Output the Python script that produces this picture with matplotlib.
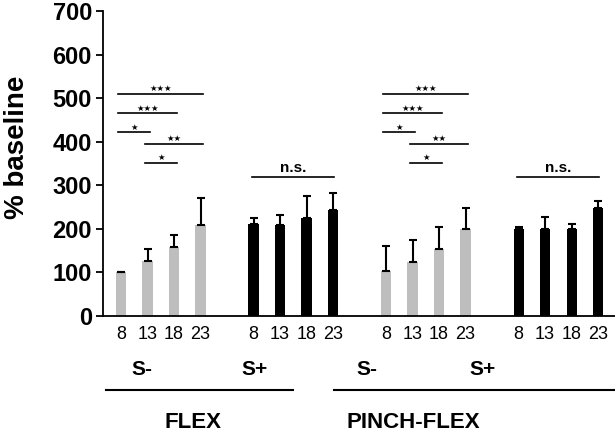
import numpy as np
import matplotlib
matplotlib.use("Agg")
import matplotlib.pyplot as plt
import matplotlib.transforms as mtransforms

plt.rcParams['font.family'] = ['Liberation Sans', 'DejaVu Sans']

# bar heights and upper error, 4 groups of 4 (days 8, 13, 18, 23)
days = ['8', '13', '18', '23']
flex_sminus = [100, 126, 159, 209]
flex_sminus_err = [1, 27, 28, 61]
flex_splus = [212, 209, 226, 243]
flex_splus_err = [14, 23, 49, 39]
pinch_sminus = [103, 123, 153, 200]
pinch_sminus_err = [58, 51, 52, 49]
pinch_splus = [199, 200, 200, 249]
pinch_splus_err = [5, 28, 11, 15]

# significance brackets within each S- group: (from bar, to bar, height, label)
sig_pairs = [(0, 3, 510, '★★★'), (0, 2, 466, '★★★'), (0, 1, 422, '★'),
             (1, 3, 395, '★★'), (1, 2, 352, '★')]
ns_height = 318

GRAY = '#bebebe'


def main():
    fig = plt.figure(figsize=(6.15, 4.32), dpi=100)
    ax = fig.add_axes([103 / 615, 1 - 316 / 432, 1 - 103 / 615, 305 / 432])

    groups = [(flex_sminus, flex_sminus_err, GRAY),
              (flex_splus, flex_splus_err, 'black'),
              (pinch_sminus, pinch_sminus_err, GRAY),
              (pinch_splus, pinch_splus_err, 'black')]
    starts = [0, 5, 10, 15]
    ticks = []
    for start, (vals, errs, col) in zip(starts, groups):
        x = np.arange(4) + start
        ticks.extend(x)
        ax.bar(x, vals, width=0.38, color=col, zorder=2)
        ax.errorbar(x, vals, yerr=[np.zeros(4), errs], fmt='none',
                    ecolor='black', elinewidth=1.5, capsize=3, capthick=1.5, zorder=3)

    # brackets
    for start in (0, 10):
        for a, b, h, lab in sig_pairs:
            ax.plot([start + a - 0.1, start + b + 0.1], [h, h], color='black', lw=1.2)
            ax.text(start + (a + b) / 2, h + 1, lab, ha='center', va='bottom', fontsize=6,
                    family='DejaVu Sans')
    for start in (5, 15):
        ax.plot([start - 0.05, start + 3.05], [ns_height, ns_height], color='black', lw=1.2)
        ax.text(start + 1.5, ns_height + 6, 'n.s.', ha='center', va='bottom',
                fontsize=11, fontweight='bold')

    ax.set_xlim(-0.68, 18.64)
    ax.set_ylim(0, 700)
    ax.set_yticks(range(0, 701, 100))
    ax.set_xticks(ticks)
    ax.set_xticklabels(days * 4, fontsize=13,
                       family=['Liberation Sans Narrow', 'Liberation Sans', 'DejaVu Sans'])
    ax.tick_params(axis='x', length=0, pad=7)
    ax.tick_params(axis='y', direction='out', length=5, width=1.3, pad=3)
    for lab in ax.get_yticklabels():
        lab.set_fontsize(17)
        lab.set_fontweight('bold')
    ax.spines['top'].set_visible(False)
    ax.spines['right'].set_visible(False)
    ax.spines['left'].set_linewidth(1.3)
    ax.spines['bottom'].set_linewidth(1.3)

    trans = mtransforms.blended_transform_factory(ax.transData, ax.transAxes)
    for xpos, lab in [(0.79, 'S-'), (5.02, 'S+'), (9.28, 'S-'), (13.66, 'S+')]:
        ax.text(xpos, -0.177, lab, transform=trans, ha='center', va='center',
                fontsize=15, fontweight='bold')
    ax.plot([-0.57, 6.49], [-0.243, -0.243], transform=trans, color='black', lw=1.5, clip_on=False)
    ax.plot([8.04, 18.7], [-0.243, -0.243], transform=trans, color='black', lw=1.5, clip_on=False)
    ax.text(2.72, -0.348, 'FLEX', transform=trans, ha='center', va='center',
            fontsize=16, fontweight='bold')
    ax.text(11.02, -0.348, 'PINCH-FLEX', transform=trans, ha='center', va='center',
            fontsize=16, fontweight='bold')

    fig.text(17 / 615, 1 - 147 / 432, '% baseline', rotation=90, ha='center', va='center',
             fontsize=20, fontweight='bold')

    fig.savefig('out.png', dpi=100)


if __name__ == "__main__":
    main()
